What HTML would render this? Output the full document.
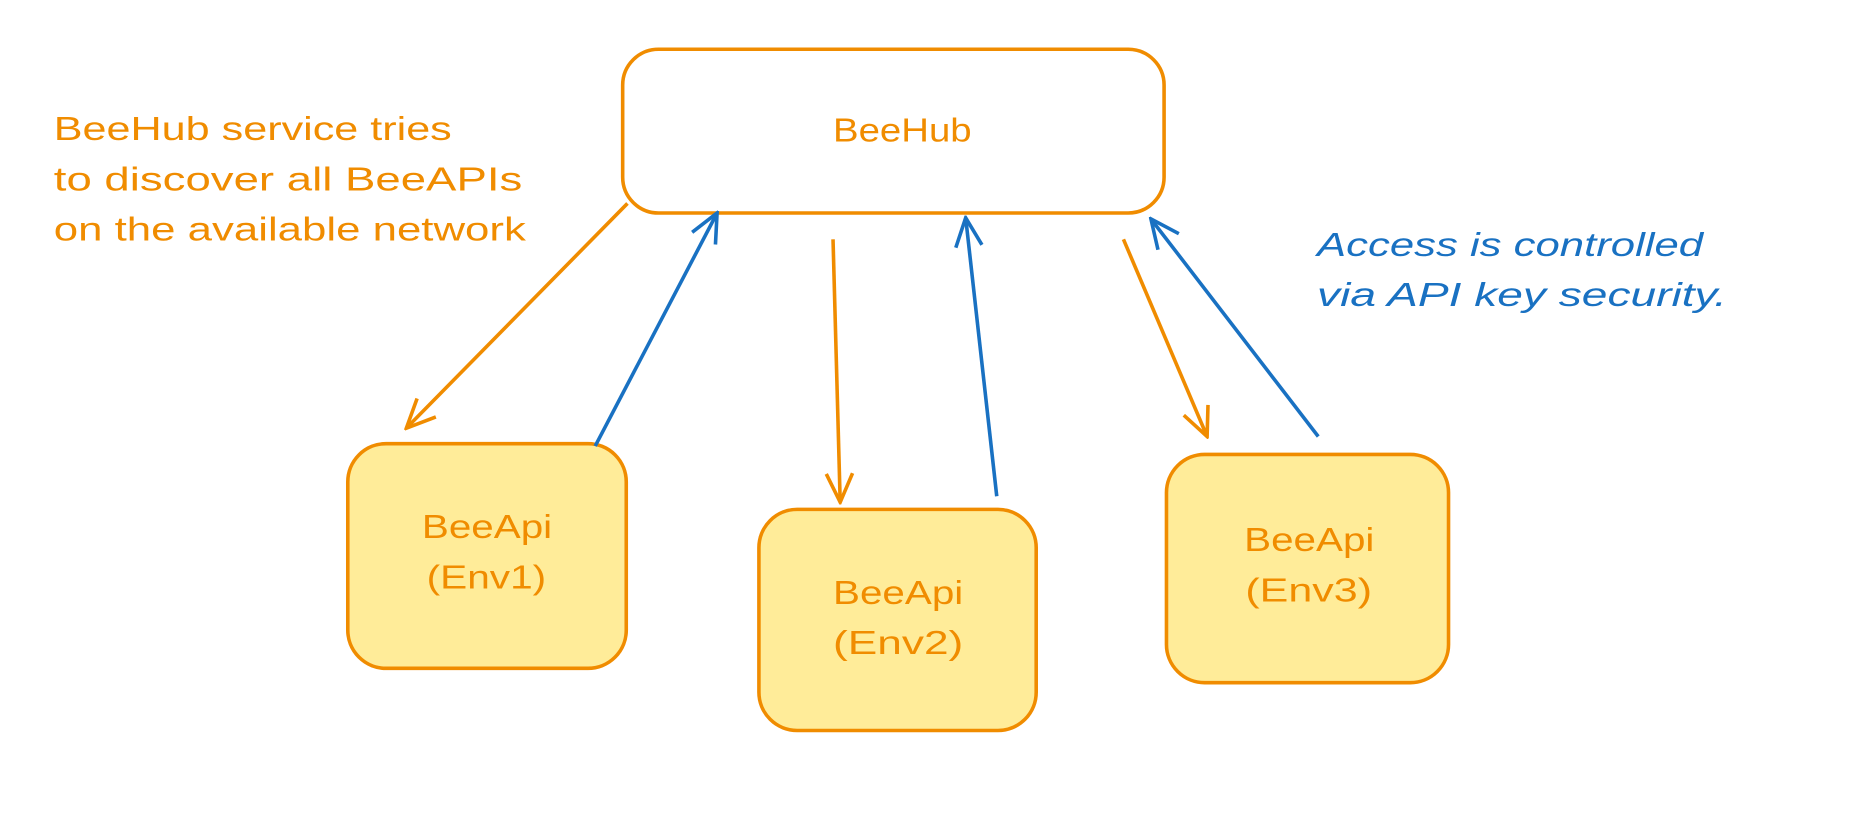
<!DOCTYPE html>
<html><head><style>
html,body{margin:0;padding:0;background:#fff;width:1874px;height:818px;overflow:hidden}
svg{display:block}
text{font-family:"Liberation Sans",sans-serif}
</style></head><body>
<svg width="1874" height="818" viewBox="0 0 1568 684" xmlns="http://www.w3.org/2000/svg">
<defs>
<marker id="ao" viewBox="0 0 30 30" refX="28" refY="15" markerWidth="30" markerHeight="30" markerUnits="userSpaceOnUse" orient="auto"><path d="M4 4 L28 15 L4 26" fill="none" stroke="#f08c00" stroke-width="3"/></marker>
<marker id="ab" viewBox="0 0 30 30" refX="28" refY="15" markerWidth="30" markerHeight="30" markerUnits="userSpaceOnUse" orient="auto"><path d="M4 4 L28 15 L4 26" fill="none" stroke="#1971c2" stroke-width="3"/></marker>
</defs>
<rect width="1568" height="684" fill="#fff"/>
<rect x="521" y="41" width="453" height="137" rx="30" fill="#fff" stroke="#f08c00" stroke-width="3"/>
<rect x="291" y="371" width="233" height="188" rx="32" fill="#ffec99" stroke="#f08c00" stroke-width="3"/>
<rect x="635" y="426" width="232" height="185" rx="32" fill="#ffec99" stroke="#f08c00" stroke-width="3"/>
<rect x="976" y="380" width="236" height="191" rx="32" fill="#ffec99" stroke="#f08c00" stroke-width="3"/>
<g font-size="28" fill="#f08c00">
<text x="697" y="118" textLength="116" lengthAdjust="spacingAndGlyphs">BeeHub</text>
<text x="353" y="450" textLength="109" lengthAdjust="spacingAndGlyphs">BeeApi</text>
<text x="357" y="492" textLength="100" lengthAdjust="spacingAndGlyphs">(Env1)</text>
<text x="697" y="505" textLength="109" lengthAdjust="spacingAndGlyphs">BeeApi</text>
<text x="697" y="547" textLength="109" lengthAdjust="spacingAndGlyphs">(Env2)</text>
<text x="1041" y="461" textLength="109" lengthAdjust="spacingAndGlyphs">BeeApi</text>
<text x="1042" y="503" textLength="106" lengthAdjust="spacingAndGlyphs">(Env3)</text>
</g>
<g font-size="28" fill="#f08c00">
<text x="45" y="117" textLength="333" lengthAdjust="spacingAndGlyphs">BeeHub service tries</text>
<text x="45" y="159" textLength="392" lengthAdjust="spacingAndGlyphs">to discover all BeeAPIs</text>
<text x="45" y="201" textLength="395" lengthAdjust="spacingAndGlyphs">on the available network</text>
</g>
<g font-size="28" fill="#1971c2" font-style="italic">
<text x="1102" y="214" textLength="323" lengthAdjust="spacingAndGlyphs">Access is controlled</text>
<text x="1102" y="256" textLength="343" lengthAdjust="spacingAndGlyphs">via API key security.</text>
</g>
<g stroke-width="3" fill="none">
<line x1="525" y1="170" x2="340" y2="358" stroke="#f08c00" marker-end="url(#ao)"/>
<line x1="498" y1="373" x2="600" y2="178" stroke="#1971c2" marker-end="url(#ab)"/>
<line x1="697" y1="200" x2="703" y2="420" stroke="#f08c00" marker-end="url(#ao)"/>
<line x1="834" y1="415" x2="808" y2="182" stroke="#1971c2" marker-end="url(#ab)"/>
<line x1="940" y1="200" x2="1010" y2="365" stroke="#f08c00" marker-end="url(#ao)"/>
<line x1="1103" y1="365" x2="963" y2="183" stroke="#1971c2" marker-end="url(#ab)"/>
</g>
</svg>
</body></html>
